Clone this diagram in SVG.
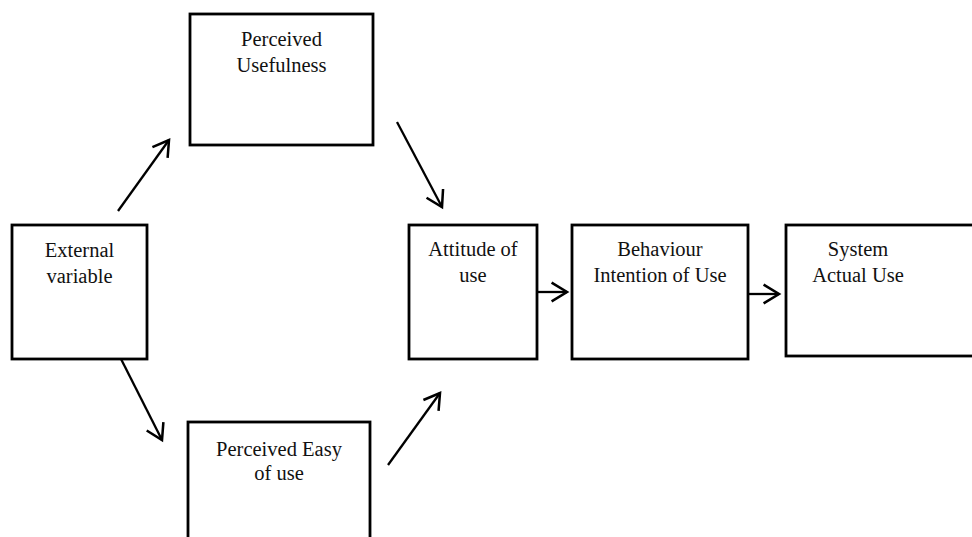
<svg xmlns="http://www.w3.org/2000/svg" width="972" height="537" viewBox="0 0 972 537">
<style>
.box{fill:#fff;stroke:#000;stroke-width:2.8}
.t{font-family:"Liberation Serif","Times New Roman",serif;font-size:20.5px;fill:#111;text-anchor:middle}
.c{stroke:#000;stroke-width:2.3;fill:none;marker-end:url(#ah)}
</style>
<defs>
<marker id="ah" markerUnits="userSpaceOnUse" markerWidth="22" markerHeight="22" viewBox="-16 -10 18 20" refX="0" refY="0" orient="auto">
<path d="M-14,-8.5 L0,0 L-14,8.5" fill="none" stroke="#000" stroke-width="2.3"/>
</marker>
</defs>
<rect width="972" height="537" fill="#fff"/>
<g id="connectors">
<line class="c" x1="118" y1="211" x2="169" y2="140"/>
<line class="c" x1="397" y1="122" x2="442" y2="207"/>
<line class="c" x1="119" y1="355" x2="162" y2="440"/>
<line class="c" x1="388" y1="465" x2="440" y2="393"/>
<line class="c" x1="537" y1="292" x2="567" y2="292"/>
<line class="c" x1="748" y1="294" x2="779" y2="294"/>
</g>
<g id="perceived-usefulness">
<rect class="box" x="190" y="14" width="183" height="131"/>
<text class="t" x="281.5" y="46">Perceived</text>
<text class="t" x="281.5" y="72">Usefulness</text>
</g>
<g id="external-variable">
<rect class="box" x="12" y="225" width="135" height="134"/>
<text class="t" x="79.5" y="257">External</text>
<text class="t" x="79.5" y="283">variable</text>
</g>
<g id="perceived-easy">
<rect class="box" x="188" y="422" width="182" height="130"/>
<text class="t" x="279" y="456">Perceived Easy</text>
<text class="t" x="279" y="480">of use</text>
</g>
<g id="attitude">
<rect class="box" x="409" y="225" width="128" height="134"/>
<text class="t" x="473" y="256">Attitude of</text>
<text class="t" x="473" y="282">use</text>
</g>
<g id="behaviour">
<rect class="box" x="572" y="225" width="176" height="134"/>
<text class="t" x="660" y="256">Behaviour</text>
<text class="t" x="660" y="282">Intention of Use</text>
</g>
<g id="system">
<rect class="box" x="786" y="225" width="200" height="131"/>
<text class="t" x="858" y="256">System</text>
<text class="t" x="858" y="282">Actual Use</text>
</g>
</svg>
